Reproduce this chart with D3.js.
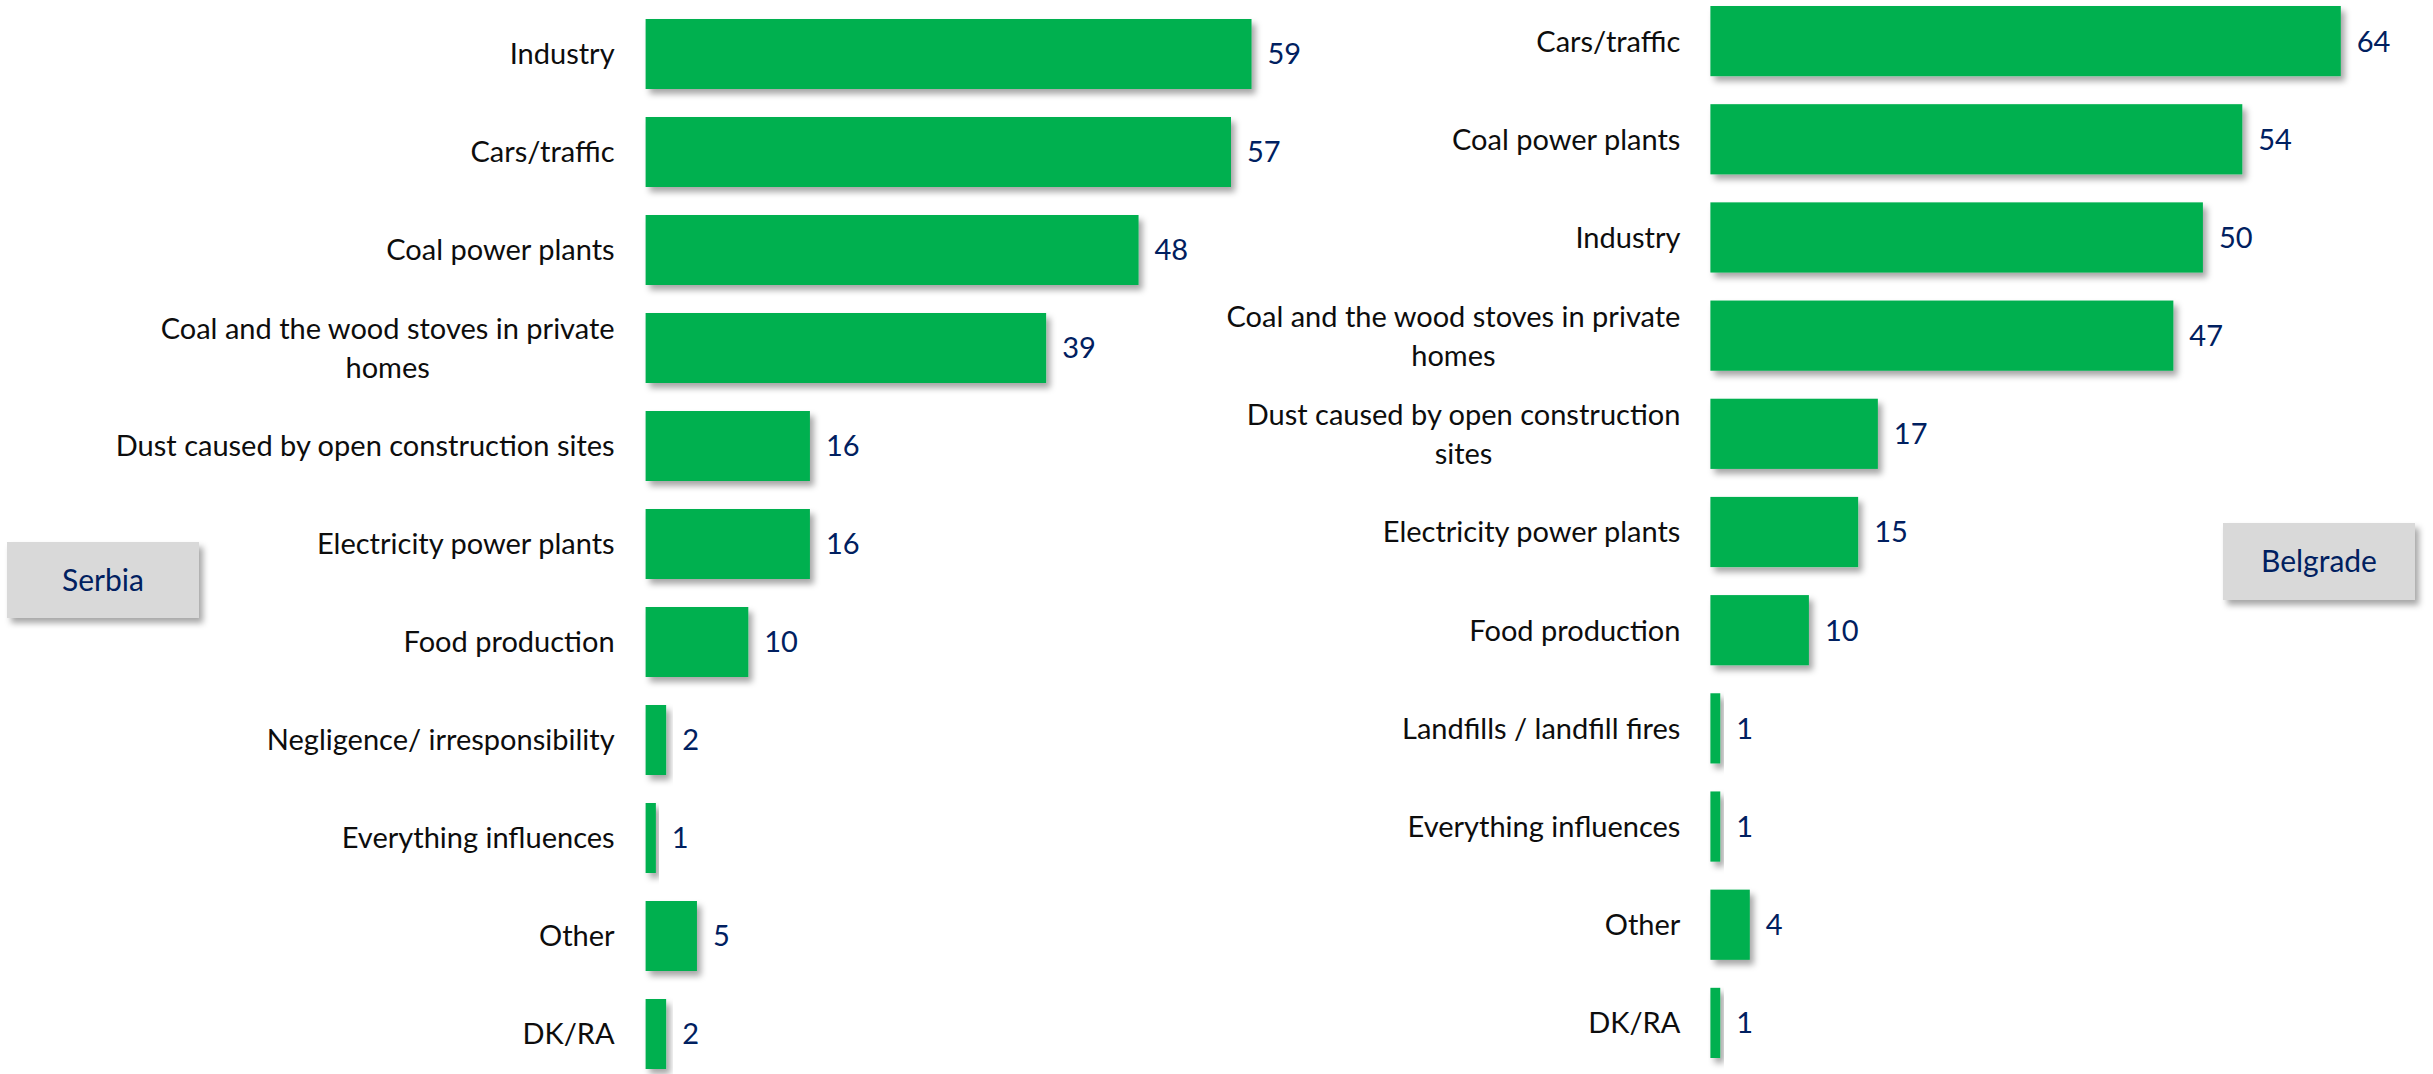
<!DOCTYPE html>
<html>
<head>
<meta charset="utf-8">
<script src="https://cdn.jsdelivr.net/npm/d3@7"></script>
<style>
  html, body { margin: 0; padding: 0; background: #ffffff; }
  svg { display: block; }
  text { font-family: Lato, "Open Sans", sans-serif; }
</style>
</head>
<body>
<svg id="chart" width="2433" height="1074"></svg>
<script>
// ---- Data ----
const serbiaCategories = [
  "Industry",
  "Cars/traffic",
  "Coal power plants",
  "Coal and the wood stoves in private\nhomes",
  "Dust caused by open construction sites",
  "Electricity power plants",
  "Food production",
  "Negligence/ irresponsibility",
  "Everything influences",
  "Other",
  "DK/RA"
];
const serbiaValues = [59, 57, 48, 39, 16, 16, 10, 2, 1, 5, 2];

const belgradeCategories = [
  "Cars/traffic",
  "Coal power plants",
  "Industry",
  "Coal and the wood stoves in private\nhomes",
  "Dust caused by open construction\nsites",
  "Electricity power plants",
  "Food production",
  "Landfills / landfill fires",
  "Everything influences",
  "Other",
  "DK/RA"
];
const belgradeValues = [64, 54, 50, 47, 17, 15, 10, 1, 1, 4, 1];

const panelTitles = ["Serbia", "Belgrade"];

// ---- Drawing ----
const svg = d3.select("#chart");
const defs = svg.append("defs");
const f = defs.append("filter").attr("id", "shadow")
  .attr("x", "-20%").attr("y", "-20%").attr("width", "150%").attr("height", "160%");
f.append("feDropShadow").attr("dx", 4).attr("dy", 5).attr("stdDeviation", 3)
  .attr("flood-color", "#000").attr("flood-opacity", 0.35);

const GREEN = "#00B050";
const NAVY = "#002060";

function drawPanel(cats, vals, cfg) {
  const x = d3.scaleLinear().domain([0, 100]).range([cfg.x0, cfg.x0 + cfg.unit * 100]);
  const y = d3.scaleBand().domain(cats).range([cfg.yTop, cfg.yBottom])
    .paddingInner(cfg.pad).paddingOuter(0);
  const g = svg.append("g");
  const data = cats.map((c, i) => ({ c, v: vals[i] }));

  g.selectAll("rect.bar").data(data).join("rect")
    .attr("class", "bar")
    .attr("x", x(0))
    .attr("y", d => y(d.c))
    .attr("width", d => x(d.v) - x(0))
    .attr("height", y.bandwidth())
    .attr("fill", GREEN)
    .attr("filter", "url(#shadow)");

  g.selectAll("text.val").data(data).join("text")
    .attr("class", "val")
    .attr("x", d => x(d.v) + 16)
    .attr("y", d => y(d.c) + y.bandwidth() / 2)
    .attr("dy", "0.36em")
    .attr("fill", NAVY)
    .attr("font-size", 29)
    .text(d => d.v);

  const lab = g.selectAll("text.cat").data(data).join("text")
    .attr("class", "cat")
    .attr("text-anchor", "end")
    .attr("font-size", 29)
    .attr("fill", "#0d0d0d");
  lab.each(function(d) {
    const lines = d.c.split("\n");
    const cy = y(d.c) + y.bandwidth() / 2;
    const lh = 39;
    const t = d3.select(this);
    lines.forEach((ln, k) => {
      t.append("tspan")
        .attr("x", x(0) - cfg.gap)
        .attr("y", cy + (k - (lines.length - 1) / 2) * lh)
        .attr("dy", "0.36em")
        .text(ln);
    });
  });
  // wrapped labels: lines centred on each other, block right-aligned
  lab.each(function(d) {
    const lines = d.c.split("\n");
    if (lines.length > 1) {
      const t = d3.select(this);
      const spans = t.selectAll("tspan").nodes();
      const widths = spans.map(s => s.getComputedTextLength());
      const maxW = Math.max(...widths);
      const center = x(0) - cfg.gap - maxW / 2;
      t.attr("text-anchor", "middle");
      spans.forEach(s => d3.select(s).attr("x", center));
    }
  });

  // title box
  const b = cfg.box;
  svg.append("rect").attr("x", b.x).attr("y", b.y).attr("width", b.w).attr("height", b.h)
    .attr("fill", "#D9D9D9").attr("filter", "url(#shadow)");
  svg.append("text").attr("x", b.x + b.w / 2).attr("y", b.y + b.h / 2)
    .attr("dy", "0.36em").attr("text-anchor", "middle")
    .attr("font-size", 30).attr("fill", NAVY).text(cfg.title);
}

drawPanel(serbiaCategories, serbiaValues, {
  x0: 645.6, unit: 10.27, yTop: 19, yBottom: 1069, pad: 28 / 98,
  gap: 31,
  title: panelTitles[0],
  box: { x: 7, y: 542, w: 192, h: 76 }
});

drawPanel(belgradeCategories, belgradeValues, {
  x0: 1710.4, unit: 9.85, yTop: 6, yBottom: 1058, pad: 28 / 98.2,
  gap: 30,
  title: panelTitles[1],
  box: { x: 2223, y: 523, w: 192, h: 77 }
});
</script>
</body>
</html>
